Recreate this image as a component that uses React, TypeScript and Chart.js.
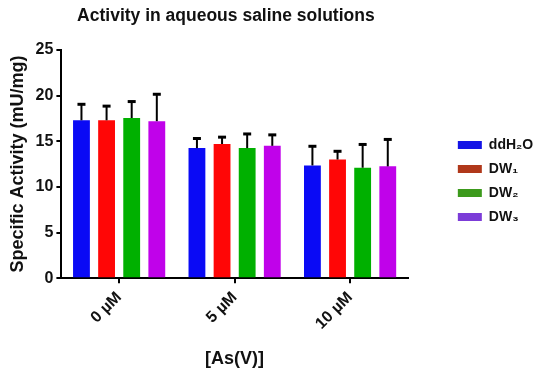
import React, { useEffect, useRef } from "react";
import { Chart, registerables } from "chart.js";

Chart.register(...registerables);

const categories = ["0 µM", "5 µM", "10 µM"];
const seriesNames = ["ddH₂O", "DW₁", "DW₂", "DW₃"];
const ddH2O = [17.3, 14.25, 12.35];
const DW1 = [17.3, 14.7, 13.0];
const DW2 = [17.55, 14.25, 12.1];
const DW3 = [17.2, 14.5, 12.25];
const ddH2OErr = [1.75, 1.05, 2.1];
const DW1Err = [1.55, 0.75, 0.9];
const DW2Err = [1.8, 1.55, 2.55];
const DW3Err = [2.95, 1.2, 2.95];
const yTicks = [0, 5, 10, 15, 20, 25];

const barColors = ["#0a0af5", "#ff0606", "#00b000", "#c002ea"];
const legendColors = ["#1414e6", "#b0381a", "#3c9a1c", "#7c3cd8"];
const seriesValues = [ddH2O, DW1, DW2, DW3];
const seriesErrors = [ddH2OErr, DW1Err, DW2Err, DW3Err];

const FONT = "'Liberation Sans', Arial, sans-serif";

const errorBarPlugin = {
  id: "errorBars",
  afterDatasetsDraw(chart: any) {
    const ctx = chart.ctx;
    const yScale = chart.scales.y;
    chart.data.datasets.forEach((ds: any, i: number) => {
      const meta = chart.getDatasetMeta(i);
      if (meta.hidden) return;
      meta.data.forEach((bar: any, j: number) => {
        const v = ds.data[j];
        const e = seriesErrors[i][j];
        const yTop = yScale.getPixelForValue(v + e);
        ctx.save();
        ctx.strokeStyle = "#000";
        ctx.lineWidth = 2;
        ctx.beginPath();
        ctx.moveTo(bar.x, bar.y);
        ctx.lineTo(bar.x, yTop);
        ctx.stroke();
        ctx.lineWidth = 3;
        ctx.beginPath();
        ctx.moveTo(bar.x - 4, yTop);
        ctx.lineTo(bar.x + 4, yTop);
        ctx.stroke();
        ctx.restore();
      });
    });
  },
};

export default function App() {
  const ref = useRef<HTMLCanvasElement | null>(null);
  useEffect(() => {
    if (!ref.current) return;
    const chart = new Chart(ref.current, {
      type: "bar",
      data: {
        labels: categories,
        datasets: seriesNames.map((name, i) => ({
          label: name,
          data: seriesValues[i],
          backgroundColor: barColors[i],
          borderWidth: 0,
          categoryPercentage: 0.87,
          barPercentage: 0.67,
        })),
      },
      options: {
        responsive: false,
        animation: false,
        layout: { padding: { left: 2, right: 13, top: 0, bottom: 12 } },
        plugins: {
          title: {
            display: true,
            text: "Activity in aqueous saline solutions\u2002\u2002",
            fullSize: false,
            color: "#111",
            font: { family: FONT, size: 17.5, weight: "bold" },
            padding: { top: 6, bottom: 23 },
          },
          legend: {
            position: "right",
            labels: {
              color: "#111",
              font: { family: FONT, size: 14, weight: "bold" },
              boxWidth: 24,
              boxHeight: 8,
              padding: 10,
              generateLabels: (chart: any) =>
                chart.data.datasets.map((ds: any, i: number) => ({
                  text: ds.label,
                  fillStyle: legendColors[i],
                  strokeStyle: legendColors[i],
                  lineWidth: 0,
                  hidden: false,
                  datasetIndex: i,
                  fontColor: "#111",
                })),
            },
          },
          tooltip: { enabled: false },
        },
        scales: {
          x: {
            grid: {
              display: true,
              drawOnChartArea: false,
              offset: false,
              tickLength: 5,
              color: "#000",
              lineWidth: 2,
            },
            border: { display: true, color: "#000", width: 2 },
            ticks: {
              color: "#111",
              font: { family: FONT, size: 16, weight: "bold" },
              minRotation: 45,
              maxRotation: 45,
              padding: 5,
            },
            title: {
              display: true,
              text: "[As(V)]",
              color: "#111",
              font: { family: FONT, size: 18, weight: "bold" },
              padding: { top: 10, bottom: -8 },
            },
          },
          y: {
            min: 0,
            max: 25,
            afterBuildTicks: (scale: any) => {
              scale.ticks = yTicks.map((v) => ({ value: v }));
            },
            grid: {
              display: true,
              drawOnChartArea: false,
              tickLength: 5,
              color: "#000",
              lineWidth: 2,
            },
            border: { display: true, color: "#000", width: 2 },
            ticks: {
              color: "#111",
              font: { family: FONT, size: 16, weight: "bold" },
              padding: 3,
            },
            title: {
              display: true,
              text: "Specific Activity (mU/mg)",
              color: "#111",
              font: { family: FONT, size: 18, weight: "bold" },
              padding: { top: 5, bottom: 4 },
            },
          },
          gap: {
            type: "linear",
            position: "right",
            display: true,
            grid: { display: false },
            border: { display: false },
            ticks: { display: false },
            afterFit: (scale: any) => {
              scale.width = 40;
            },
          },
        },
      } as any,
      plugins: [errorBarPlugin],
    });
    return () => chart.destroy();
  }, []);
  return (
    <div style={{ position: "fixed", left: 0, top: 0, width: 550, height: 374, background: "#fff" }}>
      <canvas ref={ref} width={550} height={374} style={{ display: "block" }} />
    </div>
  );
}
